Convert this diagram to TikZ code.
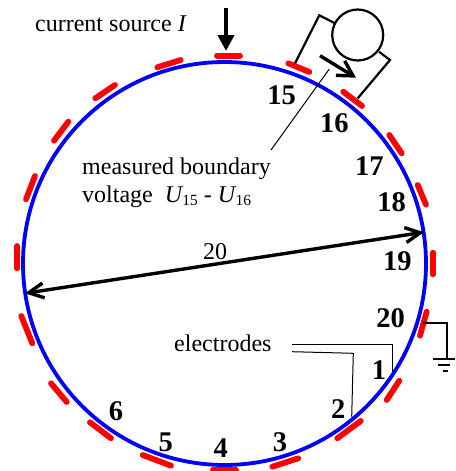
\documentclass[tikz,border=0pt]{standalone}
\usepackage{fontspec}
\setmainfont{Liberation Serif}
\usetikzlibrary{arrows.meta}
\newcommand{\lowidx}[1]{\kern-1pt\raisebox{-3.5pt}{\fontsize{15.5}{16}\selectfont #1}}
\tikzset{
  x=1pt,y=-1pt,
  ring/.style={draw=blue,line width=3.8pt},
  electrode/.style={draw=red,line width=5.8pt,line cap=round},
  wire/.style={draw=black,line width=2.2pt},
  leader/.style={draw=black,line width=1pt},
  num/.style={inner sep=0pt,font=\fontsize{28.5}{30}\bfseries\selectfont},
  lab/.style={inner sep=0pt,font=\fontsize{24}{28}\selectfont},
  openarrow/.style={draw=black,line width=3.4pt,-{Straight Barb[length=15pt,width=17pt,line width=3.4pt]}},
}
\begin{document}
\begin{tikzpicture}
\useasboundingbox (0,0) rectangle (455,471);
\fill[white] (0,0) rectangle (455,471);
% electrodes
\foreach \a/\b/\c/\d/\n in {
 217/55.7/240/55.7/e0, 288.3/63.3/309.3/72/e15, 343.3/91.7/362/106/e16,
 389.3/135/401.7/153.3/e17, 417.7/185/426/204.7/e18, 432.7/252.7/432.7/274.3/e19,
 426.7/311.7/420/335.7/e20, 399.3/380.7/386.7/400/e1, 360.7/421/337.3/438.3/e2,
 298.3/458.3/272.3/466.7/e3, 213/470/236/470/e4, 142.7/455/171/465.7/e5,
 90/422.3/111/438.3/e6, 51/383.3/66.7/402/e7, 21.3/316/32.3/343.3/e8,
 17/246/17/268.3/e9, 26/199.3/35/176/e10, 54/140.7/68.3/121.7/e11,
 95.3/98.3/115/85/e12, 157.3/67.3/180.7/60/e13}{
  \coordinate (\n a) at (\a,\b);
  \coordinate (\n b) at (\c,\d);
  \draw[electrode] (\n a) -- (\n b);
}
% body
\node[circle,ring,minimum size=403pt,inner sep=0pt,outer sep=0pt] (body) at (224.5,263.5) {};
% current source
\coordinate (srcTop) at (226,8);
\coordinate (srcTip) at (226,51);
\draw[draw=black,line width=4.8pt,-{Triangle[length=16pt,width=16pt]}] (srcTop) -- (srcTip);
% voltmeter
\node[circle,draw=black,line width=2.2pt,minimum size=51pt,inner sep=0pt] (meter) at (357.7,35) {};
\coordinate (wA0) at (295,63.3);
\coordinate (wA1) at (319.3,15.3);
\coordinate (wA2) at (335,23.3);
\coordinate (wB0) at (379,51.7);
\coordinate (wB1) at (390,60);
\coordinate (wB2) at (357.7,98.3);
\draw[wire] (wA0) -- (wA1) -- (wA2);
\draw[wire] (wB0) -- (wB1) -- (wB2);
\coordinate (vA) at (320,55.7);
\coordinate (vB) at (356,77.7);
\draw[openarrow] (vA) -- (vB);
% leader for the voltage
\coordinate (ldA) at (329.3,69);
\coordinate (ldB) at (271,150);
\draw[leader] (ldA) -- (ldB);
% diameter
\coordinate (dL) at (25,293.3);
\coordinate (dR) at (424,232.2);
\draw[draw=black,line width=3.4pt,{Straight Barb[length=15pt,width=15pt,line width=3.4pt]}-{Straight Barb[length=15pt,width=15pt,line width=3.4pt]}] (dL) -- (dR);
\node[lab] (dlab) at (215,252) {20};
% ground
\coordinate (g0) at (422.7,322.7);
\coordinate (g1) at (446.7,322.7);
\coordinate (g2) at (446.7,359.3);
\coordinate (g3a) at (433.3,359.3);
\coordinate (g3b) at (455,359.3);
\coordinate (g4a) at (438.3,365);
\coordinate (g4b) at (450,365);
\coordinate (g5a) at (443.3,371);
\coordinate (g5b) at (448.3,371);
\draw[draw=black,line width=2pt] (g0) -- (g1) -- (g2);
\draw[draw=black,line width=1.7pt] (g3a) -- (g3b) (g4a) -- (g4b) (g5a) -- (g5b);
% electrode leaders
\coordinate (l1a) at (292,344);
\coordinate (l1b) at (392.3,344);
\coordinate (l1c) at (392.3,371.7);
\coordinate (l2a) at (292,351.7);
\coordinate (l2b) at (353.3,353.3);
\coordinate (l2c) at (351.7,416.7);
\draw[leader] (l1a) -- (l1b) -- (l1c);
\draw[leader] (l2a) -- (l2b) -- (l2c);
% numbers
\foreach \x/\y/\t/\n in {281.7/95/15/n15, 334.3/123.3/16/n16, 369.3/166/17/n17,
 391.7/201.7/18/n18, 397.3/261/19/n19, 390.7/318.3/20/n20, 379/370/1/n1,
 338.3/409.3/2/n2, 280/441.7/3/n3, 220.7/448.3/4/n4, 165.7/442.3/5/n5, 116/410.7/6/n6}{
  \node[num] (\n) at (\x,\y) {\t};
}
% texts
\node[lab,anchor=base west] (tsrc) at (35,31) {current source \textit{I}};
\node[lab,anchor=base west] (tel) at (174,351) {electrodes};
\node[lab,anchor=base west] (tm1) at (82,174) {measured boundary};
\node[lab,anchor=base west] (tm2) at (82,202.3) {voltage\ \ \textit{U}\lowidx{15} - \textit{U}\lowidx{16}};
\end{tikzpicture}
\end{document}
